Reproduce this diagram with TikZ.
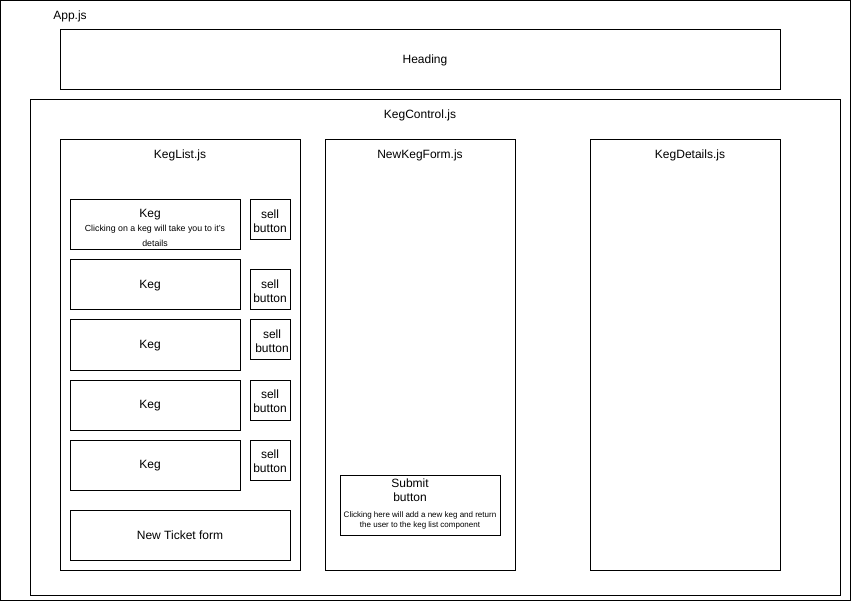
\documentclass[tikz,border=0pt]{standalone}
\usepackage{fontspec}
\setmainfont{Liberation Sans}
\begin{document}
\begin{tikzpicture}[x=1pt,y=-1pt,
  box/.style={draw=black,line width=1pt},
  lbl/.style={font=\fontsize{12}{14.5}\selectfont,inner sep=0pt,align=center},
  small/.style={font=\fontsize{8.8}{15}\selectfont,inner sep=0pt,align=center},
  tiny/.style={font=\fontsize{8}{10.5}\selectfont,inner sep=0pt,align=center}]
\useasboundingbox (0,0) rectangle (851,601);
\fill[white] (0,0) rectangle (851,601);
\draw[box] (0.5,0.5) rectangle (850.5,600.5);
\node[lbl] (app) at (70,16) {App.js};
\draw[box] (60,30) rectangle (780,90);
\node[lbl] (heading) at (425,60.5) {Heading};
\draw[box] (30,100) rectangle (840,595);
\node[lbl] (kc) at (420,115.5) {KegControl.js};
\draw[box] (60,140) rectangle (300,570);
\node[lbl] (kl) at (180,155.5) {KegList.js};
\draw[box] (325,140) rectangle (515,570);
\node[lbl] (nkf) at (420,155.5) {NewKegForm.js};
\draw[box] (590,140) rectangle (780,570);
\node[lbl] (kd) at (690,155.5) {KegDetails.js};
% kegs
\draw[box] (70,200) rectangle (240,250);
\node[lbl] (k1) at (150,215) {Keg};
\node[small] (k1t) at (155,236) {Clicking on a keg will take you to it's\\details};
\draw[box] (70,260) rectangle (240,310);
\node[lbl] (k2) at (150,285.5) {Keg};
\draw[box] (70,320) rectangle (240,370);
\node[lbl] (k3) at (150,345.5) {Keg};
\draw[box] (70,380) rectangle (240,430);
\node[lbl] (k4) at (150,405.5) {Keg};
\draw[box] (70,440) rectangle (240,490);
\node[lbl] (k5) at (150,465.5) {Keg};
% sell buttons
\draw[box] (250,200) rectangle (290,240);
\node[lbl] (s1) at (270,221) {sell\\button};
\draw[box] (250,270) rectangle (290,310);
\node[lbl] (s2) at (270,291) {sell\\button};
\draw[box] (250,320) rectangle (290,360);
\node[lbl] (s3) at (272,341) {sell\\button};
\draw[box] (250,380) rectangle (290,420);
\node[lbl] (s4) at (270,401) {sell\\button};
\draw[box] (250,440) rectangle (290,480);
\node[lbl] (s5) at (270,461) {sell\\button};
\draw[box] (70,510) rectangle (290,560);
\node[lbl] (ntf) at (180,535.5) {New Ticket form};
% submit
\draw[box] (340,475) rectangle (500,535);
\node[lbl] (sub) at (410,490) {Submit\\button};
\node[tiny] (subt) at (420,520.5) {Clicking here will add a new keg and return\\the user to the keg list component};
\end{tikzpicture}
\end{document}
